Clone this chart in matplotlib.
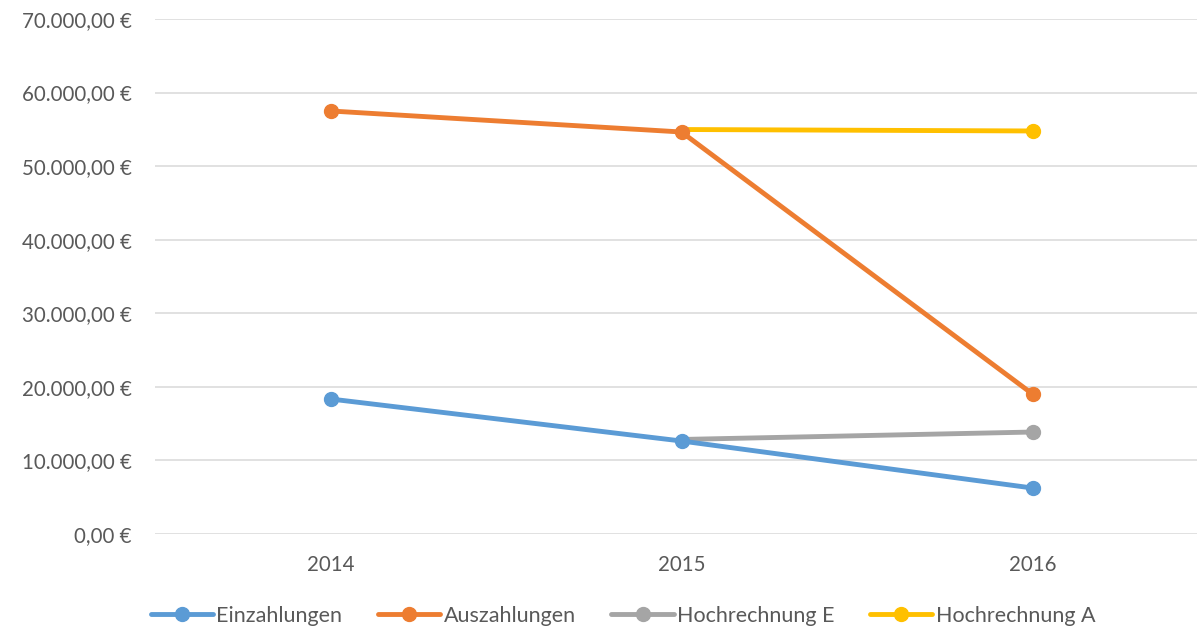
import numpy as np
import matplotlib.pyplot as plt
from matplotlib.ticker import FuncFormatter, MultipleLocator
from matplotlib.lines import Line2D

years = ['2014', '2015', '2016']
einzahlungen = [18350, 12640, 6250]
auszahlungen = [57500, 54640, 19030]
hochrechnung_e = [None, 12850, 13860]
hochrechnung_a = [None, 54980, 54780]

colors = {'Einzahlungen': '#5B9BD5', 'Auszahlungen': '#ED7D31',
          'Hochrechnung E': '#A5A5A5', 'Hochrechnung A': '#FFC000'}

plt.rcParams['font.family'] = ['Lato', 'DejaVu Sans']
text_col = '#595959'

fig = plt.figure(figsize=(11.97, 6.3), dpi=100)
ax = fig.add_axes([155/1197, 96/630, (1208-155)/1197, (534-19)/630])

x = np.arange(len(years))

def euro(v, pos):
    s = f"{v:,.2f}".replace(',', 'X').replace('.', ',').replace('X', '.')
    return s + ' €'

# Hochrechnungen: start at 2015 without a visible marker there
for name, vals in [('Hochrechnung E', hochrechnung_e), ('Hochrechnung A', hochrechnung_a)]:
    xs = [xi for xi, v in zip(x, vals) if v is not None]
    ys = [v for v in vals if v is not None]
    ax.plot(xs, ys, color=colors[name], lw=3.5, marker='o', ms=10,
            markevery=[len(xs) - 1], solid_capstyle='butt', zorder=2, label=name)

for name, vals in [('Einzahlungen', einzahlungen), ('Auszahlungen', auszahlungen)]:
    ax.plot(x, vals, color=colors[name], lw=3.5, marker='o', ms=10,
            solid_capstyle='round', zorder=3, label=name)

ax.set_xlim(-0.5, 2.5)
ax.set_ylim(0, 70000)
ax.yaxis.set_major_locator(MultipleLocator(10000))
ax.yaxis.set_major_formatter(FuncFormatter(euro))
ax.set_xticks(x)
ax.set_xticklabels(years)
ax.grid(axis='y', color='#D9D9D9', lw=1.1, zorder=0)
ax.set_axisbelow(True)
for s in ax.spines.values():
    s.set_visible(False)
ax.tick_params(axis='both', length=0, labelsize=14.8, labelcolor=text_col)
ax.tick_params(axis='y', pad=17)
ax.tick_params(axis='x', pad=15)

order = ['Einzahlungen', 'Auszahlungen', 'Hochrechnung E', 'Hochrechnung A']
leg_handles = [Line2D([], [], color=colors[n], lw=3.5, marker='o', ms=10,
                      solid_capstyle='round') for n in order]
fig.legend(leg_handles, order, loc='center', bbox_to_anchor=(623/1197, 1 - 616/630),
           ncol=4, frameon=False, fontsize=15.5, handlelength=2.9,
           handletextpad=0.15, columnspacing=1.65, labelcolor=text_col)

fig.savefig('out.png', dpi=100)
